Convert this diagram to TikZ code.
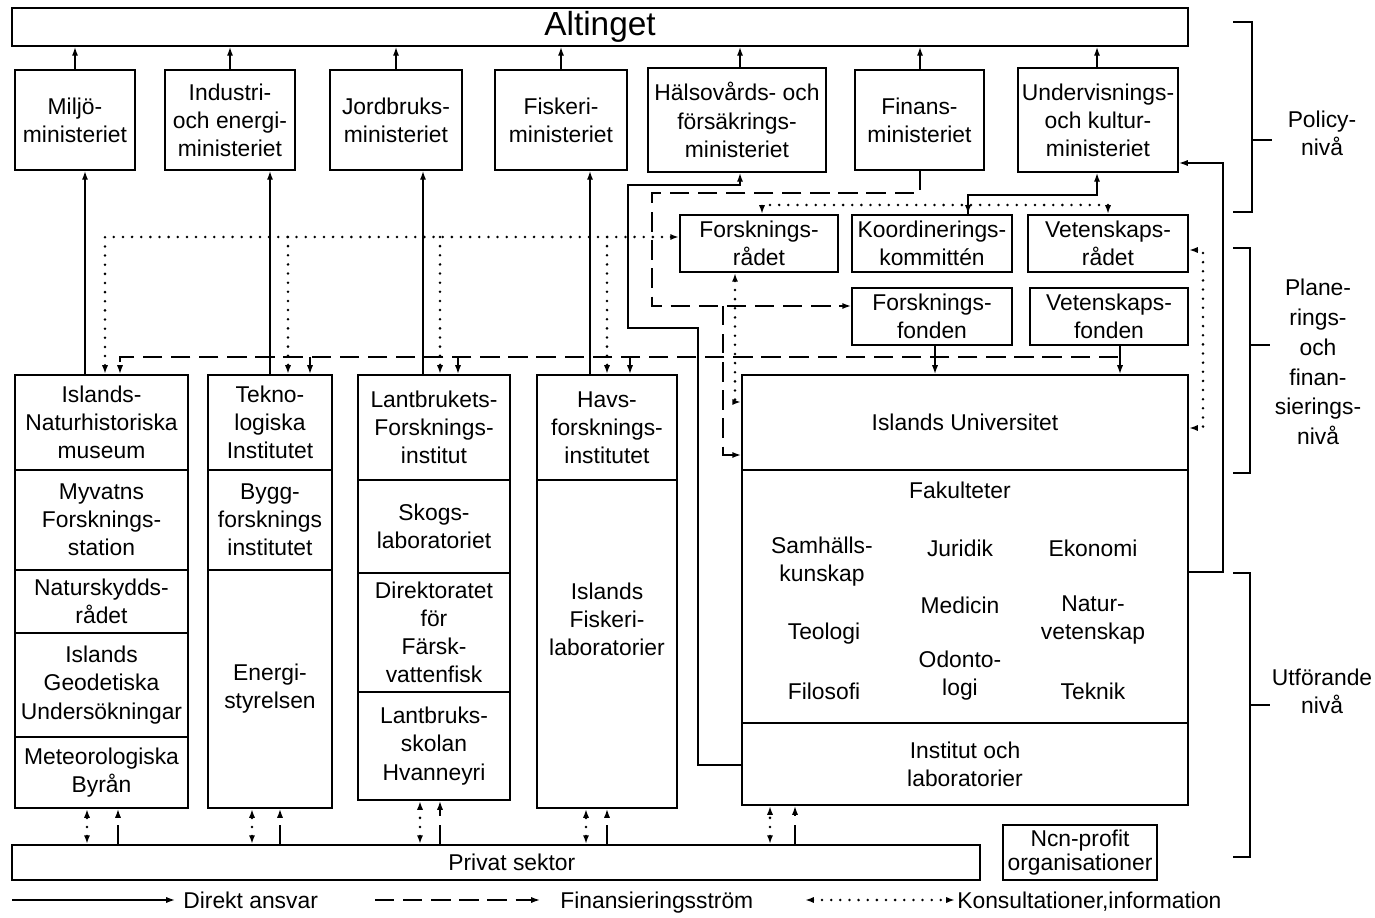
\documentclass[tikz,border=0pt]{standalone}
\usepackage{fontspec}
\setmainfont{Liberation Sans}
\usetikzlibrary{arrows.meta}
\def\Bx[#1](#2)(#3,#4)(#5,#6)#7{%
  \pgfmathsetmacro\bxw{(#5-#3)*0.02}%
  \pgfmathsetmacro\bxh{(#6-#4)*0.02}%
  \pgfmathsetmacro\bxx{(#3+#5)/2}%
  \pgfmathsetmacro\bxy{(#4+#6)/2}%
  \node[box,minimum width=\bxw cm,minimum height=\bxh cm,#1] (#2) at (\bxx,\bxy) {#7};}
\begin{document}
\begin{tikzpicture}[x=0.02cm,y=-0.02cm,
  every node/.style={font=\fontsize{13}{16}\selectfont},
  box/.style={draw,line width=1.1pt,inner sep=0pt,align=center},
  txt/.style={inner sep=0pt,align=center},
  direct/.style={line width=0.8pt,-{Latex[length=5pt,width=3.5pt]}},
  fin/.style={line width=0.9pt,dash pattern=on 11pt off 5pt,-{Latex[length=5pt,width=3.5pt]}},
  cons/.style={line width=1.6pt,line cap=round,dash pattern=on 0pt off 5.2pt,-{Latex[length=5pt,width=3.5pt]}},
  consb/.style={line width=1.6pt,line cap=round,dash pattern=on 0pt off 5.2pt,{Latex[length=5pt,width=3.5pt]}-{Latex[length=5pt,width=3.5pt]}},
  brk/.style={line width=0.9pt}
]
\useasboundingbox (0,0) rectangle (1375,918);

% guides
\foreach \gx in {75,85,87,105,118,120,230,252,270,280,288,310,396,420,423,440,458,561,586,590,607,630,735,740,762,770,795,920,935,968,1097,1108,1120}
  {\coordinate (x\gx) at (\gx,0);}
\foreach \gy in {163,237,250,306,357,402,428,455,572,765}
  {\coordinate (y\gy) at (0,\gy);}

% policy level
\Bx[font=\fontsize{19}{22}\selectfont](alt)(12,8)(1188,46){\raisebox{3pt}{Altinget}}
\Bx[](m1)(15,70)(135,170){Miljö-\\ministeriet}
\Bx[](m2)(165,70)(295,170){Industri-\\och energi-\\ministeriet}
\Bx[](m3)(330,70)(462,170){Jordbruks-\\ministeriet}
\Bx[](m4)(495,70)(627,170){Fiskeri-\\ministeriet}
\Bx[](m5)(648,68)(826,172){Hälsovårds- och\\försäkrings-\\ministeriet}
\Bx[](m6)(855,70)(984,170){Finans-\\ministeriet}
\Bx[](m7)(1018,68)(1178,172){Undervisnings-\\och kultur-\\ministeriet}

% planning level
\Bx[](fr)(680,215)(838,272){Forsknings-\\rådet}
\Bx[](kk)(852,215)(1012,272){Koordinerings-\\kommittén}
\Bx[](vr)(1028,215)(1188,272){Vetenskaps-\\rådet}
\Bx[](ff)(852,288)(1012,345){Forsknings-\\fonden}
\Bx[](vf)(1030,288)(1188,345){Vetenskaps-\\fonden}

% execution level
\Bx[](c1a)(15,375)(188,470){Islands-\\Naturhistoriska\\museum}
\Bx[](c1b)(15,470)(188,570){Myvatns\\Forsknings-\\station}
\Bx[](c1c)(15,570)(188,633){Naturskydds-\\rådet}
\Bx[](c1d)(15,633)(188,737){Islands\\Geodetiska\\Undersökningar}
\Bx[](c1e)(15,737)(188,808){Meteorologiska\\Byrån}

\Bx[](c2a)(208,375)(332,470){Tekno-\\logiska\\Institutet}
\Bx[](c2b)(208,470)(332,570){Bygg-\\forsknings\\institutet}
\Bx[](c2c)(208,570)(332,808){Energi-\\styrelsen}

\Bx[](c3a)(358,375)(510,480){Lantbrukets-\\Forsknings-\\institut}
\Bx[](c3b)(358,480)(510,573){Skogs-\\laboratoriet}
\Bx[](c3c)(358,573)(510,692){Direktoratet\\för\\Färsk-\\vattenfisk}
\Bx[](c3d)(358,692)(510,800){Lantbruks-\\skolan\\Hvanneyri}

\Bx[](c4a)(537,375)(677,480){Havs-\\forsknings-\\institutet}
\Bx[](c4b)(537,480)(677,808){}
\node[txt] (c4bt) at (607,619) {Islands\\Fiskeri-\\laboratorier};

\Bx[](u1)(742,375)(1188,470){Islands Universitet}
\Bx[](u2)(742,470)(1188,723){}
\Bx[](u3)(742,723)(1188,805){Institut och\\laboratorier}
\node[txt] (fak) at (960,490) {Fakulteter};
\node[txt] (samh) at (822,562) {Samhälls-\\kunskap};
\node[txt] (jur) at (960,548) {Juridik};
\node[txt] (eko) at (1093,548) {Ekonomi};
\node[txt] (med) at (960,605) {Medicin};
\node[txt] (nat) at (1093,620) {Natur-\\vetenskap};
\node[txt] (teo) at (824,634) {Teologi};
\node[txt] (odo) at (960,676) {Odonto-\\logi};
\node[txt] (fil) at (824,691) {Filosofi};
\node[txt] (tek) at (1093,691) {Teknik};

\Bx[](priv)(12,845)(980,880){\hspace*{18pt}Privat sektor}
\Bx[font=\fontsize{13}{14}\selectfont](ncn)(1003,825)(1157,880){Ncn-profit\\organisationer}

% ministries -> Altinget
\draw[direct] (m1.north -| x75) -- (alt.south -| x75);
\draw[direct] (m2.north -| x230) -- (alt.south -| x230);
\draw[direct] (m3.north -| x396) -- (alt.south -| x396);
\draw[direct] (m4.north -| x561) -- (alt.south -| x561);
\draw[direct] (m5.north -| x740) -- (alt.south -| x740);
\draw[direct] (m6.north -| x920) -- (alt.south -| x920);
\draw[direct] (m7.north -| x1097) -- (alt.south -| x1097);

% institutions -> ministries
\draw[direct] (c1a.north -| x85) -- (m1.south -| x85);
\draw[direct] (c2a.north -| x270) -- (m2.south -| x270);
\draw[direct] (c3a.north -| x423) -- (m3.south -| x423);
\draw[direct] (c4a.north -| x590) -- (m4.south -| x590);
\draw[direct] (u3.west |- y765) -- (698,765) -- (698,328) -- (628,328) -- (628,185) -- (740,185) -- (m5.south -| x740);
\draw[direct] (u2.east |- y572) -- (1223,572) -- (1223,163) -- (m7.east |- y163);
\draw[direct] (kk.north -| x968) -- (968,195) -- (1097,195) -- (m7.south -| x1097);
\draw[direct] (ff.south -| x935) -- (u1.north -| x935);
\draw[direct] (vf.south -| x1120) -- (u1.north -| x1120);

% finance flows
\coordinate (fb) at (723,306);
\draw[fin] (m6.south -| x920) -- (920,193) -- (652,193) -- (652,306) -- (ff.west |- y306);
\draw[fin] (fb) -- (723,455) -- (u1.west |- y455);
\coordinate (vfl) at (1118,357);
\draw[fin] (vfl) -- (120,357) -- (c1a.north -| x120);
\coordinate (b2) at (310,357);
\coordinate (b3) at (458,357);
\coordinate (b4) at (630,357);
\draw[fin] (b2) -- (c2a.north -| x310);
\draw[fin] (b3) -- (c3a.north -| x458);
\draw[fin] (b4) -- (c4a.north -| x630);
\draw[fin] (priv.north -| x118) -- (c1e.south -| x118);
\draw[fin] (priv.north -| x280) -- (c2c.south -| x280);
\draw[fin] (priv.north -| x440) -- (c3d.south -| x440);
\draw[fin] (priv.north -| x607) -- (c4b.south -| x607);
\draw[fin] (priv.north -| x795) -- (u3.south -| x795);

% consultations
\draw[consb] (fr.west |- y237) -- (105,237) -- (c1a.north -| x105);
\coordinate (d2) at (288,237);
\coordinate (d3) at (440,237);
\coordinate (d4) at (607,237);
\draw[cons] (d2) -- (c2a.north -| x288);
\draw[cons] (d3) -- (c3a.north -| x440);
\draw[cons] (d4) -- (c4a.north -| x607);
\draw[consb] (fr.north -| x762) -- (762,205) -- (1108,205) -- (vr.north -| x1108);
\coordinate (dk) at (968,205);
\draw[cons] (dk) -- (kk.north -| x968);
\draw[consb] (fr.south -| x735) -- (735,402) -- (u1.west |- y402);
\draw[consb] (vr.east |- y250) -- (1203,250) -- (1203,428) -- (u1.east |- y428);
\draw[consb] (priv.north -| x87) -- (c1e.south -| x87);
\draw[consb] (priv.north -| x252) -- (c2c.south -| x252);
\draw[consb] (priv.north -| x420) -- (c3d.south -| x420);
\draw[consb] (priv.north -| x586) -- (c4b.south -| x586);
\draw[consb] (priv.north -| x770) -- (u3.south -| x770);

% legend
\coordinate (la) at (12,900); \coordinate (lb) at (175,900);
\draw[direct] (la) -- (lb);
\node[txt,anchor=base west] (lt1) at (183,908) {Direkt ansvar};
\coordinate (lc) at (375,900); \coordinate (ld) at (540,900);
\draw[fin] (lc) -- (ld);
\node[txt,anchor=base west] (lt2) at (560,908) {Finansieringsström};
\coordinate (le) at (805,900); \coordinate (lf) at (955,900);
\draw[consb] (le) -- (lf);
\node[txt,anchor=base west] (lt3) at (957,908) {Konsultationer,information};

% level brackets
\draw[brk] (1233,22) -- (1252,22) -- (1252,212) -- (1233,212);
\draw[brk] (1252,140) -- (1272,140);
\node[txt] (pol) at (1322,133) {Policy-\\nivå};
\draw[brk] (1233,248) -- (1250,248) -- (1250,473) -- (1233,473);
\draw[brk] (1250,345) -- (1270,345);
\node[txt,font=\fontsize{13}{17}\selectfont] (plan) at (1318,362) {Plane-\\rings-\\och\\finan-\\sierings-\\nivå};
\draw[brk] (1233,573) -- (1250,573) -- (1250,857) -- (1233,857);
\draw[brk] (1250,705) -- (1270,705);
\node[txt] (utf) at (1322,691) {Utförande\\nivå};
\end{tikzpicture}
\end{document}
